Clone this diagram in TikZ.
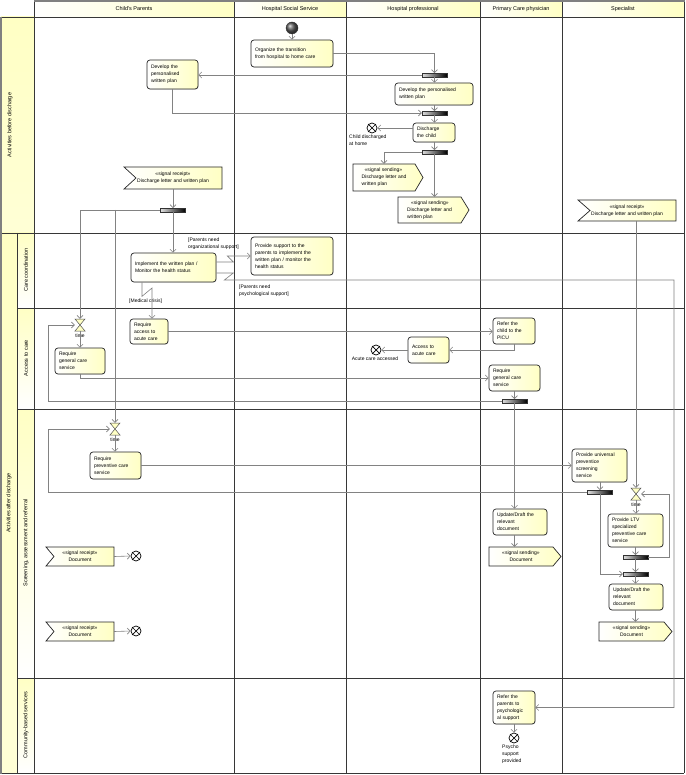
\documentclass[tikz,border=0pt]{standalone}
\usepackage{fontspec}
\setmainfont{Liberation Sans}
\usetikzlibrary{arrows.meta,calc,shadows}
\definecolor{yl}{RGB}{255,255,196}
\definecolor{edgegray}{RGB}{130,130,130}
\definecolor{lanecol}{RGB}{55,55,55}
\tikzset{
 lane/.style={draw=lanecol, line width=0.8pt},
 outerborder/.style={draw=gray, line width=2pt},
 edge/.style={draw=edgegray, line width=0.6pt, -{Straight Barb[length=3pt,width=6pt]}},
 actbox/.style={draw=black!85, line width=0.7pt, rounded corners=3pt, left color=white, right color=yl,
   inner xsep=4pt, inner ysep=0pt, align=left, font=\fontsize{5}{7}\selectfont,
   drop shadow={shadow xshift=0.7pt, shadow yshift=-0.7pt, opacity=0.25}},
 sigshape/.style={draw=black!85, line width=0.7pt, left color=white, right color=yl},
 sigtext/.style={inner sep=0pt, font=\fontsize{5}{7}\selectfont},
 barnode/.style={draw=black!80, line width=0.4pt, left color=white!75!gray, right color=black,
   minimum width=25pt, minimum height=3.5pt, inner sep=0pt},
 hgnode/.style={minimum width=10pt, minimum height=12pt, inner sep=0pt},
 finnode/.style={circle, draw=black, line width=0.7pt, fill=white, minimum size=10pt, inner sep=0pt},
 lbl/.style={font=\fontsize{5}{7}\selectfont, inner sep=0pt, align=left},
 hdr/.style={font=\fontsize{5.5}{7}\selectfont, inner sep=0pt},
 lanelbl/.style={font=\fontsize{5.5}{7}\selectfont, inner sep=0pt, rotate=90},
}
\newcommand\actnode[6]{%
 \pgfmathsetmacro\tw{#4-#2-8}\pgfmathsetmacro\bh{#5-#3}%
 \node[actbox, text width=\tw pt, minimum height=\bh pt] (#1) at ({(#2+#4)/2},{(#3+#5)/2}) {#6};}
\newcommand\recvnode[7]{%
 \pgfmathsetmacro\bw{#4-#2}\pgfmathsetmacro\bh{#5-#3}%
 \path[sigshape] (#2,#3) -- (#4,#3) -- (#4,#5) -- (#2,#5) -- ({#2+#6},{(#3+#5)/2}) -- cycle;
 \node[sigtext, align=center, minimum width=\bw pt, minimum height=\bh pt] (#1) at ({(#2+#4)/2},{(#3+#5)/2}) {#7};}
\newcommand\sendnode[8]{%
 \pgfmathsetmacro\bw{#4-#2-#6}\pgfmathsetmacro\bh{#5-#3}%
 \path[sigshape] (#2,#3) -- ({#4-#6},#3) -- (#4,{(#3+#5)/2}) -- ({#4-#6},#5) -- (#2,#5) -- cycle;
 \node[sigtext, align=#7, minimum width=\bw pt, minimum height=\bh pt] (#1) at ({(#2+#4-#6)/2},{(#3+#5)/2}) {#8};}
\newcommand\hourglass[3]{%
 \node[hgnode] (#1) at (#2,#3) {};
 \filldraw[fill=yl, draw=black!70, line width=0.5pt] ({#2-5},{#3-6}) -- ({#2+5},{#3-6}) -- (#2,#3) -- cycle
   ({#2-5},{#3+6}) -- ({#2+5},{#3+6}) -- (#2,#3) -- cycle;}
\newcommand\finalnode[3]{%
 \node[finnode] (#1) at (#2,#3) {};
 \draw[line width=0.7pt] (#1.north west) -- (#1.south east) (#1.north east) -- (#1.south west);}
\begin{document}
\begin{tikzpicture}[x=1pt,y=-1pt]
\useasboundingbox (0,0) rectangle (685,775);
\fill[white] (0,0) rectangle (685,775);
% ---------- swimlane headers ----------
\path[left color=white, right color=yl] (34,1) rectangle (234,17);
\path[left color=white, right color=yl] (234,1) rectangle (346,17);
\path[left color=white, right color=yl] (346,1) rectangle (480,17);
\path[left color=white, right color=yl] (480,1) rectangle (562,17);
\path[left color=white, right color=yl] (562,1) rectangle (684,17);
\node[hdr] (hCP) at (134,9) {Child's Parents};
\node[hdr] (hHS) at (290,9) {Hospital Social Service};
\node[hdr] (hHP) at (413,9) {Hospital professional};
\node[hdr] (hPC) at (521,9) {Primary Care physician};
\node[hdr] (hSP) at (623,9) {Specialist};
% ---------- row labels ----------
\path[top color=yl, bottom color=yl!70!white] (1,17) rectangle (34,233);
\path[top color=yl, bottom color=yl!70!white] (1,233) rectangle (17,773);
\path[top color=yl, bottom color=white] (17,233) rectangle (34,308);
\path[top color=yl, bottom color=white] (17,308) rectangle (34,409);
\path[top color=yl, bottom color=white] (17,409) rectangle (34,678);
\path[top color=yl, bottom color=white] (17,678) rectangle (34,773);
\node[lanelbl] (rBD) at (10,125) {Activities before discharge};
\node[lanelbl] (rAD) at (9,503) {Activities after discharge};
\node[lanelbl] (rCC) at (26,270) {Care coordination};
\node[lanelbl] (rAC) at (26,358) {Access to care};
\node[lanelbl] (rSA) at (26,543) {Screening, assessment and referral};
\node[lanelbl] (rCB) at (26,725) {Community-based services};
% ---------- lane lines ----------
\draw[lane] (1,17) -- (684,17);
\draw[lane] (1,233) -- (684,233);
\draw[lane] (17,308) -- (684,308);
\draw[lane] (17,409) -- (684,409);
\draw[lane] (17,678) -- (684,678);
\draw[lane] (1,773) -- (684,773);
\draw[lane] (17,233) -- (17,773);
\draw[lane] (34,1) -- (34,773);
\draw[lane] (234,1) -- (234,773);
\draw[lane] (346,1) -- (346,773);
\draw[lane] (480,1) -- (480,773);
\draw[lane] (562,1) -- (562,773);
\draw[lane] (684,1) -- (684,773);
\draw[outerborder] (34,1) -- (685,1);
\draw[outerborder] (1,17) -- (1,774);
% ---------- before discharge ----------
\node[circle, draw=black!80, ball color=gray!70!black, minimum size=12pt, inner sep=0pt] (init) at (292,28) {};
\actnode{orgz}{251}{40}{333}{67}{Organize the transition\\from hospital to home care}
\actnode{devP}{147}{60}{198}{89}{Develop the\\personalised\\written plan}
\node[barnode] (bar1) at (434.5,75) {};
\actnode{devH}{395}{83}{473}{105}{Develop the personalised\\written plan}
\node[barnode] (bar2) at (434.5,113) {};
\actnode{disch}{413}{123}{455}{142}{Discharge\\the child}
\finalnode{fin1}{372}{128}
\node[lbl, anchor=north west] (lfin1) at (349,135) {Child discharged\\at home};
\node[barnode] (bar3) at (434.5,152) {};
\sendnode{send1}{353}{164}{423}{191}{8}{left}{\hspace*{3pt}<<signal sending>>\\Discharge letter and\\written plan}
\sendnode{send2}{398}{197}{469}{223}{8}{left}{\hspace*{4pt}<<signal sending>>\\Discharge letter and\\written plan}
\recvnode{recvP}{124}{167}{222}{189}{12}{<<signal receipt>>\\Discharge letter and written plan}
\recvnode{recvS}{578}{200}{676}{221}{12}{<<signal receipt>>\\Discharge letter and written plan}
\node[barnode] (bar4) at (173,210) {};
% ---------- care coordination ----------
\actnode{impl}{131}{253}{216}{282}{Implement the written plan /\\Monitor the health status}
\actnode{prov}{251}{237}{333}{275}{Provide support to the\\parents to implement the\\written plan / monitor the\\health status}
\node[lbl, anchor=north west] (lorg) at (188,238) {[Parents need\\organizational support]};
\node[lbl, anchor=north west] (lpsy) at (239,285) {[Parents need\\psychological support]};
\node[lbl, anchor=west] (lmed) at (129,301) {[Medical crisis]};
% ---------- access to care ----------
\hourglass{hg1}{80}{325}
\node[lbl] (thg1) at (80,336) {time};
\actnode{reqGen}{55}{348}{105}{374}{Require\\general care\\service}
\actnode{reqAcute}{130}{319}{168}{344}{Require\\access to\\acute care}
\actnode{refPICU}{493}{318}{535}{344}{Refer the\\child to the\\PICU}
\actnode{access}{408}{337}{449}{363}{Access to\\acute care}
\finalnode{fin2}{376}{350}
\node[lbl, anchor=north] (lfin2) at (375,357) {Acute care accessed};
\actnode{pcpGen}{489}{365}{540}{391}{Require\\general care\\service}
\node[barnode] (bar5) at (514.5,401) {};
% ---------- screening ----------
\hourglass{hg2}{115}{429}
\node[lbl] (thg2) at (115,440) {time};
\actnode{reqPrev}{90}{452}{141}{479}{Require\\preventive care\\service}
\actnode{provUni}{572}{449}{627}{482}{Provide universal\\preventice\\screening\\service}
\node[barnode] (bar6) at (600,492) {};
\hourglass{hg3}{636}{494}
\node[lbl] (thg3) at (636,505) {time};
\actnode{ltv}{608}{514}{663}{547}{Provide LTV\\specialized\\preventive care\\service}
\node[barnode] (bar7) at (635.5,557) {};
\node[barnode] (bar8) at (635.5,574) {};
\actnode{updS}{609}{584}{663}{610}{Update/Draft the\\relevant\\document}
\sendnode{sendS}{599}{622}{672}{641}{8}{center}{<<signal sending>>\\Document}
\actnode{updP}{493}{509}{547}{535}{Update/Draft the\\relevant\\document}
\sendnode{sendP}{489}{547}{561}{566}{8}{center}{<<signal sending>>\\Document}
\recvnode{recvD1}{46}{547}{114}{566}{8}{<<signal receipt>>\\Document}
\finalnode{fin3}{136}{556}
\recvnode{recvD2}{46}{622}{114}{641}{8}{<<signal receipt>>\\Document}
\finalnode{fin4}{136}{631}
% ---------- community ----------
\actnode{refPsy}{493}{691}{535}{724}{Refer the\\parents to\\psychologic\\al support}
\finalnode{fin5}{514}{738}
\node[lbl, anchor=north west] (lfin5) at (502,745) {Psycho\\support\\provided};
% ---------- helper coordinates ----------
\coordinate (lx) at (48,0);
\coordinate (rx) at (669,0);
\coordinate (zA) at (0,262);
\coordinate (zB) at (0,273);
\coordinate (psyR) at (674,280);
\coordinate (m0) at (142,0);
\coordinate (mc) at (152,288);
% ---------- edges ----------
\draw[edge] (init) -- (orgz);
\draw[edge] (orgz.east) -| (bar1.north);
\draw[edge] (bar1.west) -- (bar1.west -| devP.east);
\draw[edge] (bar1.south) -- (bar1.south |- devH.north);
\draw[edge] (devP.south) |- (bar2.west);
\draw[edge] (bar2.north |- devH.south) -- (bar2.north);
\draw[edge] (bar2.south) -- (bar2.south |- disch.north);
\draw[edge] (disch.west |- fin1.east) -- (fin1.east);
\draw[edge] (bar3.north |- disch.south) -- (bar3.north);
\draw[edge] (bar3.west) -| (send1.north);
\draw[edge] (bar3.south) -- (bar3.south |- send2.north);
\draw[edge] (recvP.south) -- (bar4.north);
\draw[edge] (bar4.south) -- (bar4.south |- impl.north);
\draw[edge] (bar4.west) -| (hg1.north);
\draw[edge] (hg2.north |- bar4.west) -- (hg2.north);
\draw[edge] (impl.east |- zA) -- ++(17,0) -- ++(-6,-6) -- (prov.west);
\draw[edge] (impl.east |- zB) -- ++(17,0) -- ++(-9,7) -- (psyR) |- (refPsy.east);
\draw[edge] (impl.south -| m0) -- ++(0,14) -- (mc) -- (mc |- reqAcute.north);
\draw[edge] (hg1.south) -- (hg1.south |- reqGen.north);
\draw[edge] (reqAcute.east) -- (reqAcute.east -| refPICU.west);
\draw[edge] (refPICU.south) |- (access.east);
\draw[edge] (access.west) -- (fin2.east);
\draw[edge] (reqGen.south) |- (pcpGen.west);
\draw[edge] (pcpGen.south) -- (bar5.north);
\draw[edge] (bar5.west) -| (lx |- hg1.west) -- (hg1.west);
\draw[edge] (bar5.south) -- (bar5.south |- updP.north);
\draw[edge] (bar5.south |- updP.south) -- (bar5.south |- sendP.north);
\draw[edge] (hg2.south) -- (hg2.south |- reqPrev.north);
\draw[edge] (reqPrev.east) -- (reqPrev.east -| provUni.west);
\draw[edge] (bar6.north |- provUni.south) -- (bar6.north);
\draw[edge] (bar6.west) -| (lx |- hg2.west) -- (hg2.west);
\draw[edge] (bar6.south) |- (bar8.west);
\draw[edge] (hg3.north |- recvS.south) -- (hg3.north);
\draw[edge] (hg3.south) -- (hg3.south |- ltv.north);
\draw[edge] (bar7.north |- ltv.south) -- (bar7.north);
\draw[edge] (bar7.east) -| (rx |- hg3.east) -- (hg3.east);
\draw[edge] (bar7.south) -- (bar8.north);
\draw[edge] (bar8.south) -- (bar8.south |- updS.north);
\draw[edge] (bar8.south |- updS.south) -- (bar8.south |- sendS.north);
\draw[edge] (recvD1.east) -- (fin3.west);
\draw[edge] (recvD2.east) -- (fin4.west);
\draw[edge] (refPsy.south) -- (fin5.north);
\end{tikzpicture}
\end{document}
